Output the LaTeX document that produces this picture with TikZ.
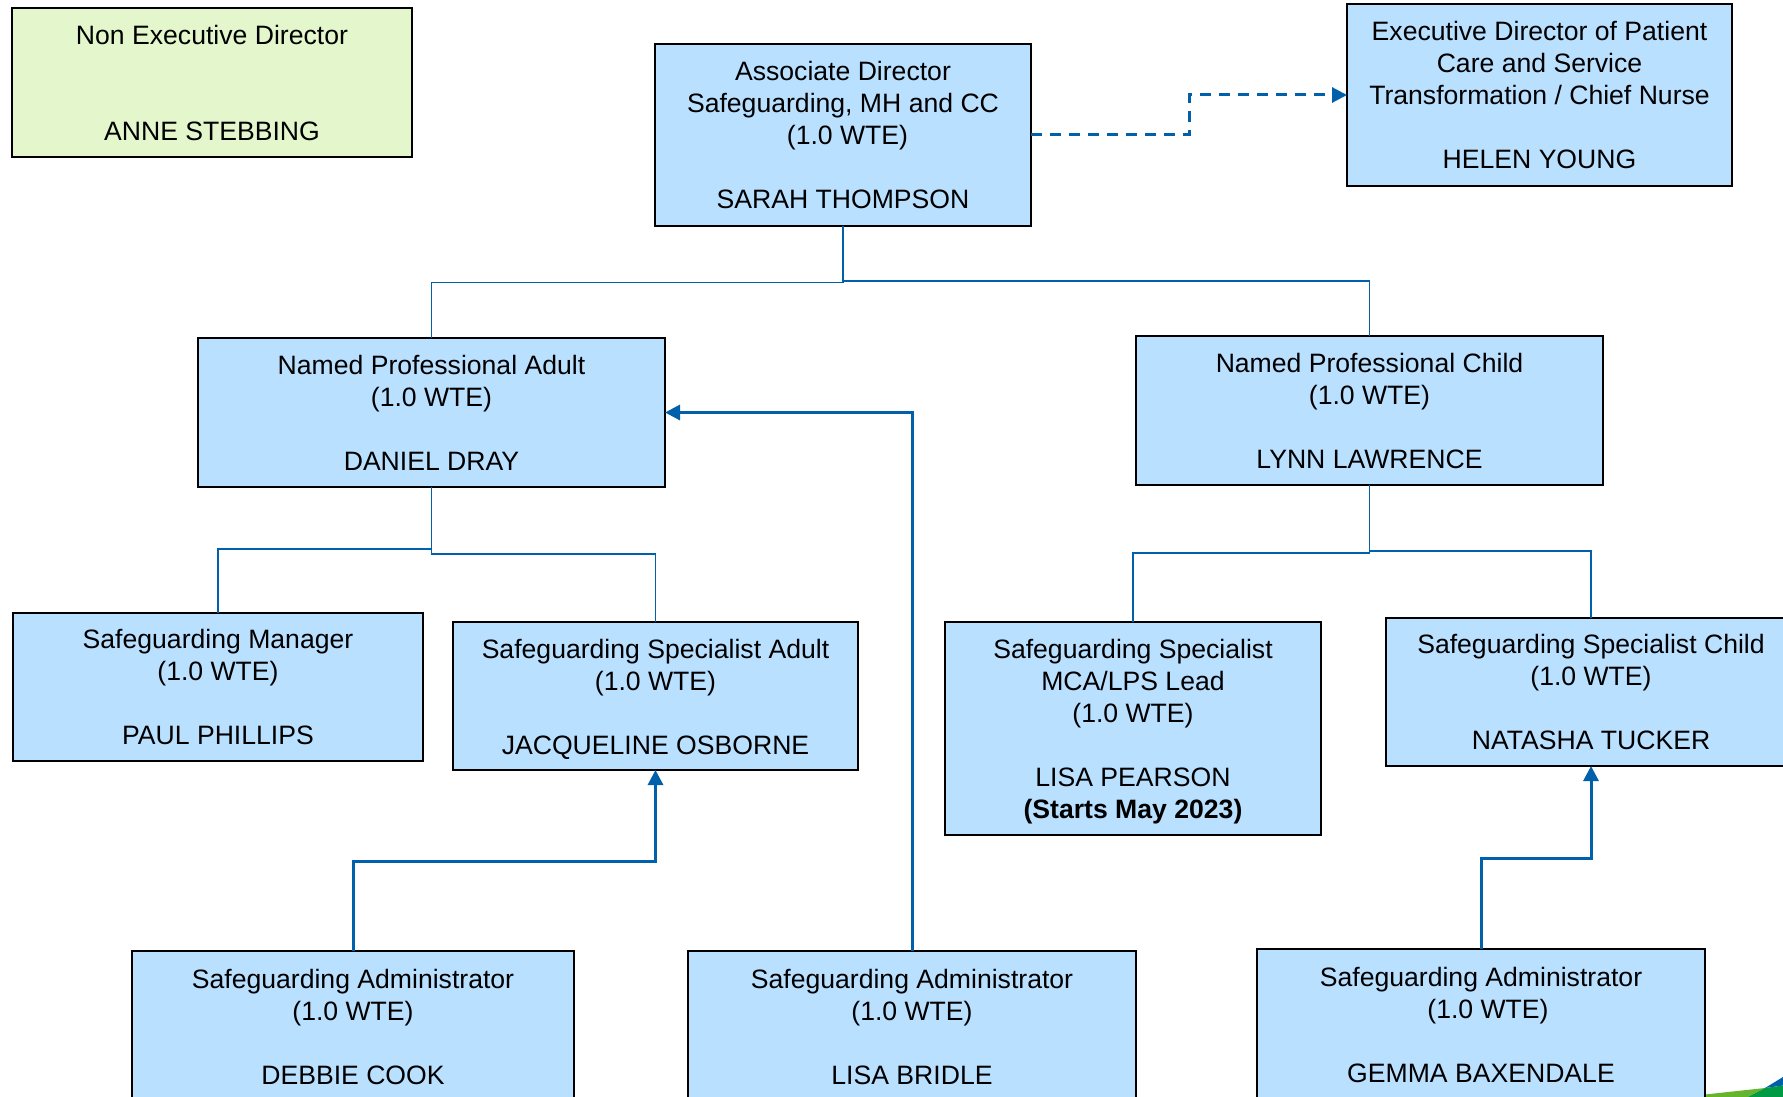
\documentclass[tikz,border=0pt]{standalone}
\usepackage{fontspec}
\setmainfont{Liberation Sans}
\usetikzlibrary{arrows.meta}
\definecolor{boxblue}{RGB}{185,224,255}
\definecolor{boxgreen}{RGB}{228,247,204}
\definecolor{linkblue}{RGB}{0,97,170}
\definecolor{logolight}{RGB}{101,180,46}
\definecolor{logodark}{RGB}{0,154,68}
\newcommand{\pushdown}[1]{\rule{0pt}{\dimexpr 19.3pt+2\dimexpr #1pt\relax\relax}}
\tikzset{
  x=1pt,y=-1pt,
  orgbox/.style={draw=black,line width=2.3pt,fill=boxblue,inner sep=0pt,outer sep=0pt,anchor=north west,align=center,font=\fontsize{26.6}{32}\selectfont},
  thinlink/.style={draw=linkblue,line width=1.5pt},
  thicklink/.style={draw=linkblue,line width=3pt,-{Triangle[length=15pt,width=15pt]}},
  dashlink/.style={thicklink,dash pattern=on 11pt off 8pt}
}
\begin{document}
\begin{tikzpicture}
\useasboundingbox (0,0) rectangle (1783,1097);
\fill[white] (0,0) rectangle (1783,1097);
% corner logo
\fill[logolight] (1705,1097) -- (1705,1094.5) -- (1765,1088) -- (1748,1097) -- cycle;
\fill[linkblue] (1765,1088) -- (1783,1077) -- (1783,1085.5) -- cycle;
\fill[logodark] (1765,1088) -- (1783,1085.5) -- (1783,1097) -- (1748,1097) -- cycle;
% boxes
\node[orgbox,minimum width=400pt,minimum height=149pt,fill=boxgreen] (ned) at (12,8) {Non Executive Director\\[64pt]ANNE STEBBING};
\node[orgbox,minimum width=376pt,minimum height=182pt] (ad) at (655,44) {Associate Director\\Safeguarding, MH and CC\\\hspace*{9pt}(1.0 WTE)\\[32pt]SARAH THOMPSON};
\node[orgbox,minimum width=385pt,minimum height=182pt] (ex) at (1347,4) {Executive Director of Patient\\Care and Service\\Transformation / Chief Nurse\\[32pt]HELEN YOUNG};
\node[orgbox,minimum width=467pt,minimum height=149pt] (npa) at (198,338) {Named Professional Adult\\(1.0 WTE)\\[32pt]DANIEL DRAY};
\node[orgbox,minimum width=467pt,minimum height=149pt] (npc) at (1136,336) {Named Professional Child\\(1.0 WTE)\\[32pt]LYNN LAWRENCE};
\node[orgbox,minimum width=410pt,minimum height=148pt] (sm) at (13,613) {Safeguarding Manager\\(1.0 WTE)\\[32pt]PAUL PHILLIPS};
\node[orgbox,minimum width=405pt,minimum height=148pt] (ssa) at (453,622) {\pushdown{2.9}Safeguarding Specialist Adult\\(1.0 WTE)\\[32pt]JACQUELINE OSBORNE};
\node[orgbox,minimum width=376pt,minimum height=213pt] (ssm) at (945,622) {\pushdown{2.9}Safeguarding Specialist\\MCA/LPS Lead\\(1.0 WTE)\\[32pt]LISA PEARSON\\\textbf{(Starts May 2023)}};
\node[orgbox,minimum width=410pt,minimum height=148pt] (ssc) at (1386,618) {Safeguarding Specialist Child\\(1.0 WTE)\\[32pt]NATASHA TUCKER};
\node[orgbox,minimum width=442pt,minimum height=149pt] (sa1) at (132,951) {\pushdown{1.2}Safeguarding Administrator\\(1.0 WTE)\\[32pt]DEBBIE COOK};
\node[orgbox,minimum width=448pt,minimum height=149pt] (sa2) at (688,951) {\pushdown{1.2}Safeguarding Administrator\\(1.0 WTE)\\[32pt]LISA BRIDLE};
\node[orgbox,minimum width=448pt,minimum height=149pt] (sa3) at (1257,949) {\pushdown{1.2}Safeguarding Administrator\\\hspace*{14pt}(1.0 WTE)\\[32pt]GEMMA BAXENDALE};
% connectors
\draw[thinlink] (ad.south) -- ++(0,56.5) -| (npa.north);
\draw[thinlink] (ad.south) -- ++(0,55) -| (npc.north);
\draw[thinlink] (npa.south) -- ++(0,62) -| (sm.north);
\draw[thinlink] (npa.south) -- ++(0,67) -| (ssa.north);
\draw[thinlink] (npc.south) -- ++(0,68) -| (ssm.north);
\draw[thinlink] (npc.south) -- ++(0,66) -| (ssc.north);
\draw[dashlink] (ad.east) -- ++(158,0) |- (ex.west);
\draw[thicklink] (sa1.north) -- ++(0,-90) -| (ssa.south);
\draw[thicklink] (sa2.north) |- (npa.east);
\draw[thicklink] (sa3.north) -- ++(0,-91) -| (ssc.south);
\end{tikzpicture}
\end{document}
